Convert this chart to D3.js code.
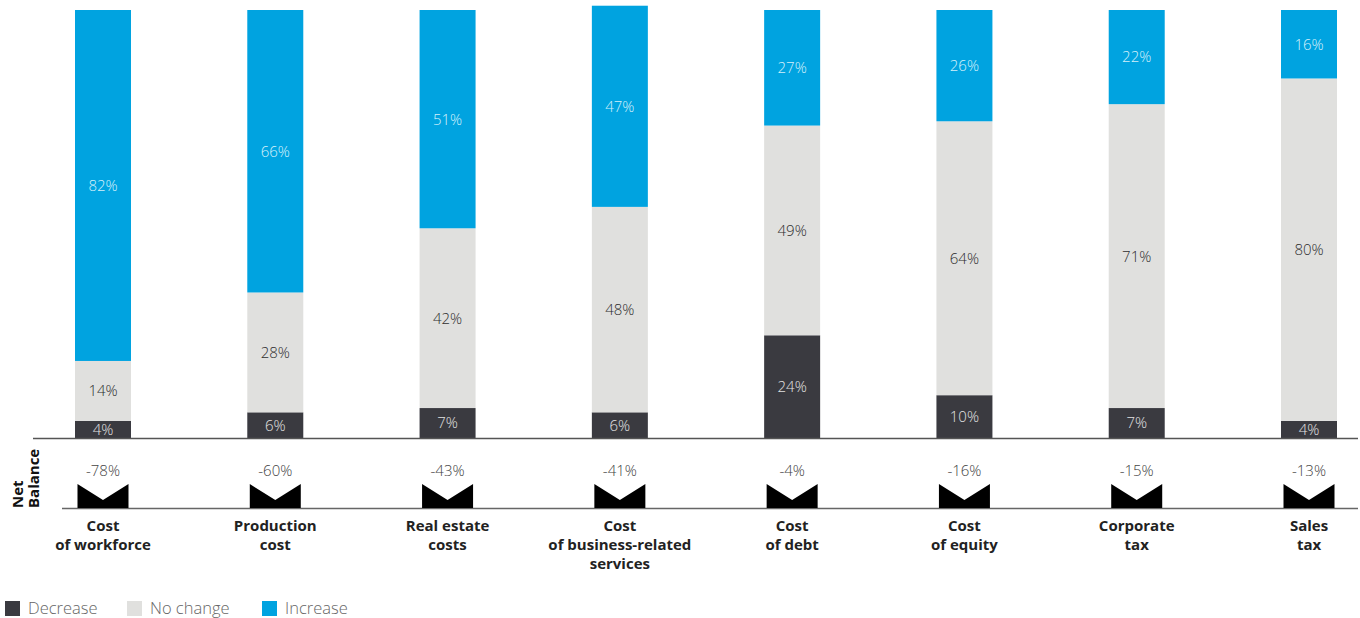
<!DOCTYPE html>
<html>
<head>
<meta charset="utf-8">
<script src="https://cdn.jsdelivr.net/npm/d3@7"></script>
<style>
  html, body { margin: 0; padding: 0; background: #fff; }
  svg { display: block; font-family: "Open Sans", "Noto Sans", sans-serif; }
</style>
</head>
<body>
<svg id="chart" width="1360" height="618"></svg>
<script>
// Survey results: expected change in cost items (% of respondents)
const categories = [
  ["Cost", "of workforce"],
  ["Production", "cost"],
  ["Real estate", "costs"],
  ["Cost", "of business-related", "services"],
  ["Cost", "of debt"],
  ["Cost", "of equity"],
  ["Corporate", "tax"],
  ["Sales", "tax"]
];
const decrease = [4, 6, 7, 6, 24, 10, 7, 4];
const noChange = [14, 28, 42, 48, 49, 64, 71, 80];
const increase = [82, 66, 51, 47, 27, 26, 22, 16];
const netBalance = [-78, -60, -43, -41, -4, -16, -15, -13];
const seriesNames = ["Decrease", "No change", "Increase"];
const seriesColors = ["#3a3a40", "#e0e0de", "#00a3e0"];
const labelColors = ["#e2e2e2", "#2e2e2e", "#d4f0fb"];

const svg = d3.select("#chart");

const x = d3.scaleBand()
  .domain(d3.range(categories.length))
  .range([75, 1337])
  .paddingInner(0.675)
  .paddingOuter(0);

const y = d3.scaleLinear().domain([0, 100]).range([438, 10]);

const rows = categories.map((c, i) => ({ i, Decrease: decrease[i], "No change": noChange[i], Increase: increase[i] }));
const stacked = d3.stack().keys(seriesNames)(rows);

const layers = svg.append("g").selectAll("g")
  .data(stacked)
  .join("g")
  .attr("fill", (d, k) => seriesColors[k]);

layers.selectAll("rect")
  .data(d => d)
  .join("rect")
  .attr("x", d => x(d.data.i))
  .attr("width", x.bandwidth())
  .attr("y", d => y(d[1]))
  .attr("height", d => y(d[0]) - y(d[1]));

// Segment value labels
stacked.forEach((layer, k) => {
  svg.append("g").selectAll("text")
    .data(layer)
    .join("text")
    .attr("x", d => x(d.data.i) + x.bandwidth() / 2)
    .attr("y", d => (y(d[0]) + y(d[1])) / 2)
    .attr("dy", "0.36em")
    .attr("text-anchor", "middle")
    .attr("font-size", 15)
    .attr("font-weight", 300)
    .attr("fill", labelColors[k])
    .text(d => (d[1] - d[0]) + "%");
});

// Baseline of the bars
svg.append("line")
  .attr("x1", 33).attr("x2", 1358)
  .attr("y1", 438.5).attr("y2", 438.5)
  .attr("stroke", "#555").attr("stroke-width", 1.5);

// Net balance row
const nbBase = 508;
svg.append("line")
  .attr("x1", 62).attr("x2", 1358)
  .attr("y1", nbBase + 0.5).attr("y2", nbBase + 0.5)
  .attr("stroke", "#666").attr("stroke-width", 1.5);

const markW = 51;
svg.append("g").selectAll("path")
  .data(netBalance)
  .join("path")
  .attr("fill", "#000")
  .attr("d", (v, i) => {
    const c = x(i) + x.bandwidth() / 2;
    const l = c - markW / 2, r = c + markW / 2;
    return `M${l},484 L${c},500 L${r},484 L${r},${nbBase} L${l},${nbBase} Z`;
  });

svg.append("g").selectAll("text")
  .data(netBalance)
  .join("text")
  .attr("x", (v, i) => x(i) + x.bandwidth() / 2)
  .attr("y", 476)
  .attr("text-anchor", "middle")
  .attr("font-size", 15)
  .attr("font-weight", 300)
  .attr("fill", "#444")
  .text(v => v + "%");

const nbTitle = svg.append("text")
  .attr("transform", `translate(23,${nbBase}) rotate(-90)`)
  .attr("font-size", 15)
  .attr("font-weight", 700)
  .attr("fill", "#111");
nbTitle.append("tspan").attr("x", 0).attr("y", 0).text("Net");
nbTitle.append("tspan").attr("x", 0).attr("y", 16).text("Balance");

// Category labels
svg.append("g").selectAll("text")
  .data(categories)
  .join("text")
  .attr("x", (c, i) => x(i) + x.bandwidth() / 2)
  .attr("text-anchor", "middle")
  .attr("font-size", 15)
  .attr("font-weight", 700)
  .attr("fill", "#222")
  .each(function (lines, i) {
    const t = d3.select(this);
    lines.forEach((line, j) => {
      t.append("tspan")
        .attr("x", x(i) + x.bandwidth() / 2)
        .attr("y", 531 + j * 19)
        .text(line);
    });
  });

// Legend
const legendX = [5, 127, 262];
const legend = svg.append("g").selectAll("g")
  .data(seriesNames)
  .join("g")
  .attr("transform", (d, k) => `translate(${legendX[k]},601)`);
legend.append("rect")
  .attr("width", 15).attr("height", 15)
  .attr("fill", (d, k) => seriesColors[k]);
legend.append("text")
  .attr("x", 23).attr("y", 13)
  .attr("font-size", 16.5)
  .attr("font-weight", 300)
  .attr("fill", "#666")
  .text(d => d);
</script>
</body>
</html>
